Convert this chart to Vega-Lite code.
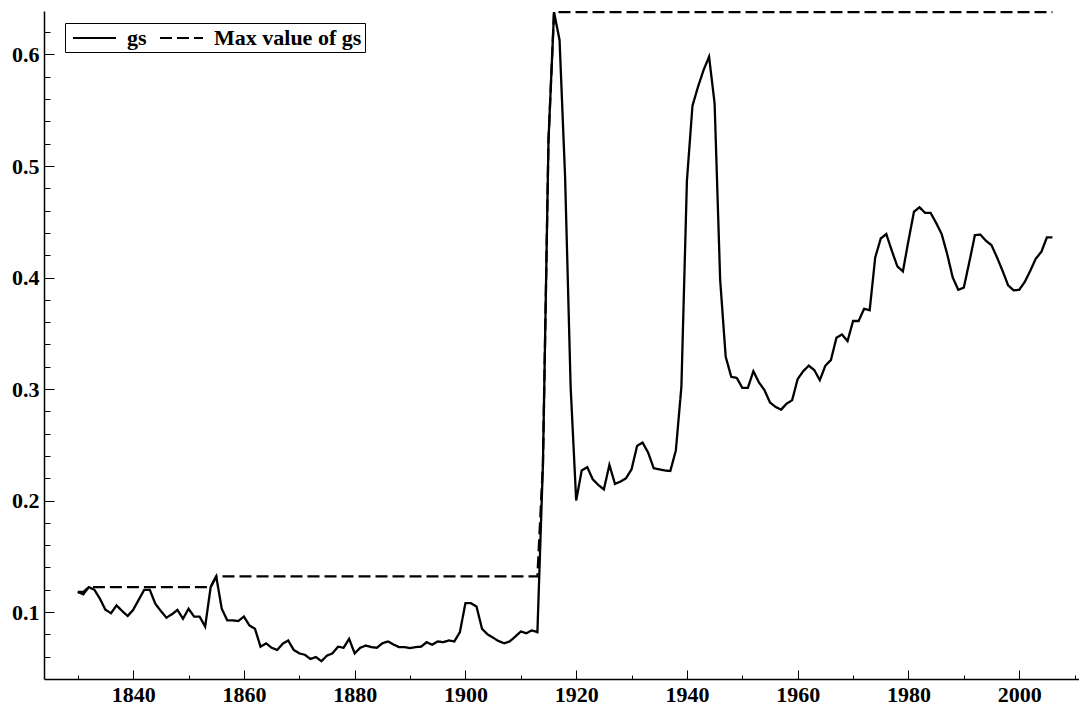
{
  "$schema": "https://vega.github.io/schema/vega-lite/v6.json",
  "width": 1035,
  "height": 668,
  "autosize": {"type": "none"},
  "padding": {"left": 44, "top": 11, "right": 0, "bottom": 31},
  "background": "white",
  "config": {"view": {"stroke": null}, "font": "Liberation Serif"},
  "data": {"values": [
    {"year":1830,"gs":0.118,"gsmax":0.118},{"year":1831,"gs":0.116,"gsmax":0.118},{"year":1832,"gs":0.1224,"gsmax":0.1224},{"year":1833,"gs":0.120,"gsmax":0.1224},{"year":1834,"gs":0.112,"gsmax":0.1224},{"year":1835,"gs":0.102,"gsmax":0.1224},{"year":1836,"gs":0.099,"gsmax":0.1224},{"year":1837,"gs":0.106,"gsmax":0.1224},{"year":1838,"gs":0.101,"gsmax":0.1224},{"year":1839,"gs":0.0965,"gsmax":0.1224},
    {"year":1840,"gs":0.102,"gsmax":0.1224},{"year":1841,"gs":0.111,"gsmax":0.1224},{"year":1842,"gs":0.120,"gsmax":0.1224},{"year":1843,"gs":0.120,"gsmax":0.1224},{"year":1844,"gs":0.1075,"gsmax":0.1224},{"year":1845,"gs":0.101,"gsmax":0.1224},{"year":1846,"gs":0.095,"gsmax":0.1224},{"year":1847,"gs":0.098,"gsmax":0.1224},{"year":1848,"gs":0.102,"gsmax":0.1224},{"year":1849,"gs":0.094,"gsmax":0.1224},
    {"year":1850,"gs":0.103,"gsmax":0.1224},{"year":1851,"gs":0.096,"gsmax":0.1224},{"year":1852,"gs":0.096,"gsmax":0.1224},{"year":1853,"gs":0.087,"gsmax":0.1224},{"year":1854,"gs":0.1225,"gsmax":0.1225},{"year":1855,"gs":0.132,"gsmax":0.132},{"year":1856,"gs":0.103,"gsmax":0.132},{"year":1857,"gs":0.0925,"gsmax":0.132},{"year":1858,"gs":0.0925,"gsmax":0.132},{"year":1859,"gs":0.092,"gsmax":0.132},
    {"year":1860,"gs":0.096,"gsmax":0.132},{"year":1861,"gs":0.088,"gsmax":0.132},{"year":1862,"gs":0.085,"gsmax":0.132},{"year":1863,"gs":0.069,"gsmax":0.132},{"year":1864,"gs":0.072,"gsmax":0.132},{"year":1865,"gs":0.068,"gsmax":0.132},{"year":1866,"gs":0.066,"gsmax":0.132},{"year":1867,"gs":0.0716,"gsmax":0.132},{"year":1868,"gs":0.0745,"gsmax":0.132},{"year":1869,"gs":0.066,"gsmax":0.132},
    {"year":1870,"gs":0.063,"gsmax":0.132},{"year":1871,"gs":0.0617,"gsmax":0.132},{"year":1872,"gs":0.058,"gsmax":0.132},{"year":1873,"gs":0.0597,"gsmax":0.132},{"year":1874,"gs":0.056,"gsmax":0.132},{"year":1875,"gs":0.061,"gsmax":0.132},{"year":1876,"gs":0.063,"gsmax":0.132},{"year":1877,"gs":0.069,"gsmax":0.132},{"year":1878,"gs":0.068,"gsmax":0.132},{"year":1879,"gs":0.076,"gsmax":0.132},
    {"year":1880,"gs":0.063,"gsmax":0.132},{"year":1881,"gs":0.068,"gsmax":0.132},{"year":1882,"gs":0.070,"gsmax":0.132},{"year":1883,"gs":0.0686,"gsmax":0.132},{"year":1884,"gs":0.068,"gsmax":0.132},{"year":1885,"gs":0.072,"gsmax":0.132},{"year":1886,"gs":0.0737,"gsmax":0.132},{"year":1887,"gs":0.071,"gsmax":0.132},{"year":1888,"gs":0.0686,"gsmax":0.132},{"year":1889,"gs":0.0686,"gsmax":0.132},
    {"year":1890,"gs":0.0677,"gsmax":0.132},{"year":1891,"gs":0.0686,"gsmax":0.132},{"year":1892,"gs":0.069,"gsmax":0.132},{"year":1893,"gs":0.073,"gsmax":0.132},{"year":1894,"gs":0.0707,"gsmax":0.132},{"year":1895,"gs":0.0737,"gsmax":0.132},{"year":1896,"gs":0.073,"gsmax":0.132},{"year":1897,"gs":0.0746,"gsmax":0.132},{"year":1898,"gs":0.0737,"gsmax":0.132},{"year":1899,"gs":0.082,"gsmax":0.132},
    {"year":1900,"gs":0.108,"gsmax":0.132},{"year":1901,"gs":0.108,"gsmax":0.132},{"year":1902,"gs":0.105,"gsmax":0.132},{"year":1903,"gs":0.085,"gsmax":0.132},{"year":1904,"gs":0.080,"gsmax":0.132},{"year":1905,"gs":0.077,"gsmax":0.132},{"year":1906,"gs":0.074,"gsmax":0.132},{"year":1907,"gs":0.072,"gsmax":0.132},{"year":1908,"gs":0.0737,"gsmax":0.132},{"year":1909,"gs":0.078,"gsmax":0.132},
    {"year":1910,"gs":0.0826,"gsmax":0.132},{"year":1911,"gs":0.081,"gsmax":0.132},{"year":1912,"gs":0.0836,"gsmax":0.132},{"year":1913,"gs":0.082,"gsmax":0.132},{"year":1914,"gs":0.233,"gsmax":0.233},{"year":1915,"gs":0.523,"gsmax":0.523},{"year":1916,"gs":0.638,"gsmax":0.638},{"year":1917,"gs":0.613,"gsmax":0.638},{"year":1918,"gs":0.49,"gsmax":0.638},{"year":1919,"gs":0.302,"gsmax":0.638},
    {"year":1920,"gs":0.200,"gsmax":0.638},{"year":1921,"gs":0.227,"gsmax":0.638},{"year":1922,"gs":0.230,"gsmax":0.638},{"year":1923,"gs":0.219,"gsmax":0.638},{"year":1924,"gs":0.214,"gsmax":0.638},{"year":1925,"gs":0.210,"gsmax":0.638},{"year":1926,"gs":0.232,"gsmax":0.638},{"year":1927,"gs":0.215,"gsmax":0.638},{"year":1928,"gs":0.217,"gsmax":0.638},{"year":1929,"gs":0.220,"gsmax":0.638},
    {"year":1930,"gs":0.228,"gsmax":0.638},{"year":1931,"gs":0.249,"gsmax":0.638},{"year":1932,"gs":0.252,"gsmax":0.638},{"year":1933,"gs":0.243,"gsmax":0.638},{"year":1934,"gs":0.229,"gsmax":0.638},{"year":1935,"gs":0.228,"gsmax":0.638},{"year":1936,"gs":0.227,"gsmax":0.638},{"year":1937,"gs":0.2265,"gsmax":0.638},{"year":1938,"gs":0.245,"gsmax":0.638},{"year":1939,"gs":0.302,"gsmax":0.638},
    {"year":1940,"gs":0.487,"gsmax":0.638},{"year":1941,"gs":0.554,"gsmax":0.638},{"year":1942,"gs":0.571,"gsmax":0.638},{"year":1943,"gs":0.586,"gsmax":0.638},{"year":1944,"gs":0.598,"gsmax":0.638},{"year":1945,"gs":0.556,"gsmax":0.638},{"year":1946,"gs":0.398,"gsmax":0.638},{"year":1947,"gs":0.329,"gsmax":0.638},{"year":1948,"gs":0.311,"gsmax":0.638},{"year":1949,"gs":0.310,"gsmax":0.638},
    {"year":1950,"gs":0.301,"gsmax":0.638},{"year":1951,"gs":0.301,"gsmax":0.638},{"year":1952,"gs":0.316,"gsmax":0.638},{"year":1953,"gs":0.306,"gsmax":0.638},{"year":1954,"gs":0.299,"gsmax":0.638},{"year":1955,"gs":0.288,"gsmax":0.638},{"year":1956,"gs":0.284,"gsmax":0.638},{"year":1957,"gs":0.2815,"gsmax":0.638},{"year":1958,"gs":0.287,"gsmax":0.638},{"year":1959,"gs":0.290,"gsmax":0.638},
    {"year":1960,"gs":0.309,"gsmax":0.638},{"year":1961,"gs":0.316,"gsmax":0.638},{"year":1962,"gs":0.321,"gsmax":0.638},{"year":1963,"gs":0.317,"gsmax":0.638},{"year":1964,"gs":0.308,"gsmax":0.638},{"year":1965,"gs":0.321,"gsmax":0.638},{"year":1966,"gs":0.326,"gsmax":0.638},{"year":1967,"gs":0.346,"gsmax":0.638},{"year":1968,"gs":0.349,"gsmax":0.638},{"year":1969,"gs":0.343,"gsmax":0.638},
    {"year":1970,"gs":0.361,"gsmax":0.638},{"year":1971,"gs":0.361,"gsmax":0.638},{"year":1972,"gs":0.372,"gsmax":0.638},{"year":1973,"gs":0.3706,"gsmax":0.638},{"year":1974,"gs":0.418,"gsmax":0.638},{"year":1975,"gs":0.435,"gsmax":0.638},{"year":1976,"gs":0.439,"gsmax":0.638},{"year":1977,"gs":0.424,"gsmax":0.638},{"year":1978,"gs":0.410,"gsmax":0.638},{"year":1979,"gs":0.4055,"gsmax":0.638},
    {"year":1980,"gs":0.433,"gsmax":0.638},{"year":1981,"gs":0.459,"gsmax":0.638},{"year":1982,"gs":0.463,"gsmax":0.638},{"year":1983,"gs":0.458,"gsmax":0.638},{"year":1984,"gs":0.458,"gsmax":0.638},{"year":1985,"gs":0.449,"gsmax":0.638},{"year":1986,"gs":0.439,"gsmax":0.638},{"year":1987,"gs":0.421,"gsmax":0.638},{"year":1988,"gs":0.400,"gsmax":0.638},{"year":1989,"gs":0.389,"gsmax":0.638},
    {"year":1990,"gs":0.391,"gsmax":0.638},{"year":1991,"gs":0.414,"gsmax":0.638},{"year":1992,"gs":0.438,"gsmax":0.638},{"year":1993,"gs":0.4385,"gsmax":0.638},{"year":1994,"gs":0.433,"gsmax":0.638},{"year":1995,"gs":0.429,"gsmax":0.638},{"year":1996,"gs":0.418,"gsmax":0.638},{"year":1997,"gs":0.406,"gsmax":0.638},{"year":1998,"gs":0.393,"gsmax":0.638},{"year":1999,"gs":0.3885,"gsmax":0.638},
    {"year":2000,"gs":0.389,"gsmax":0.638},{"year":2001,"gs":0.396,"gsmax":0.638},{"year":2002,"gs":0.406,"gsmax":0.638},{"year":2003,"gs":0.417,"gsmax":0.638},{"year":2004,"gs":0.423,"gsmax":0.638},{"year":2005,"gs":0.436,"gsmax":0.638},{"year":2006,"gs":0.436,"gsmax":0.638}
  ]},
  "transform": [{"fold": ["gs", "gsmax"], "as": ["series", "value"]}],
  "mark": {"type": "line", "color": "black", "strokeWidth": 2.3},
  "encoding": {
    "x": {
      "field": "year", "type": "quantitative",
      "scale": {"domain": [1823.9, 2010.8], "nice": false, "zero": false},
      "axis": {
        "title": null, "grid": false,
        "values": [1830,1840,1850,1860,1870,1880,1890,1900,1910,1920,1930,1940,1950,1960,1970,1980,1990,2000,2010],
        "format": "d",
        "labelExpr": "datum.value % 20 == 0 ? datum.label : ''",
        "domainColor": "black", "domainWidth": 1.5,
        "tickColor": "black", "tickWidth": 1,
        "tickSize": {"condition": {"test": "datum.value % 20 == 0", "value": -9}, "value": -4},
        "labelFont": "Liberation Serif", "labelFontSize": 22, "labelFontWeight": "bold", "labelColor": "black",
        "labelPadding": 14, "labelFlush": false, "labelOverlap": false
      }
    },
    "y": {
      "field": "value", "type": "quantitative",
      "scale": {"domain": [0.04, 0.639], "nice": false, "zero": false},
      "axis": {
        "title": null, "grid": false,
        "values": [0.06,0.08,0.1,0.12,0.14,0.16,0.18,0.2,0.22,0.24,0.26,0.28,0.3,0.32,0.34,0.36,0.38,0.4,0.42,0.44,0.46,0.48,0.5,0.52,0.54,0.56,0.58,0.6,0.62],
        "format": ".1f",
        "labelExpr": "abs(datum.value * 10 - round(datum.value * 10)) < 0.001 ? datum.label : ''",
        "domainColor": "black", "domainWidth": 1.5,
        "tickColor": "black", "tickWidth": 1,
        "tickSize": {"condition": {"test": "abs(datum.value * 10 - round(datum.value * 10)) < 0.001", "value": -10}, "value": -6},
        "labelFont": "Liberation Serif", "labelFontSize": 22, "labelFontWeight": "bold", "labelColor": "black",
        "labelPadding": 15, "labelOverlap": false
      }
    },
    "strokeDash": {
      "field": "series", "type": "nominal",
      "scale": {"domain": ["gs", "gsmax"], "range": [[1, 0], [12, 5]]},
      "legend": {
        "orient": "none", "legendX": 21, "legendY": 12, "direction": "horizontal", "title": null,
        "labelExpr": "datum.label == 'gsmax' ? 'Max value of gs' : datum.label",
        "labelFont": "Liberation Serif", "labelFontSize": 22, "labelFontWeight": "bold", "labelColor": "black",
        "symbolType": "M-0.64,0H3.27", "symbolSize": 484, "symbolStrokeWidth": 2, "symbolStrokeColor": "black",
        "strokeColor": "black", "fillColor": "white", "padding": 3, "labelOffset": 35, "columnPadding": 8
      }
    }
  }
}
